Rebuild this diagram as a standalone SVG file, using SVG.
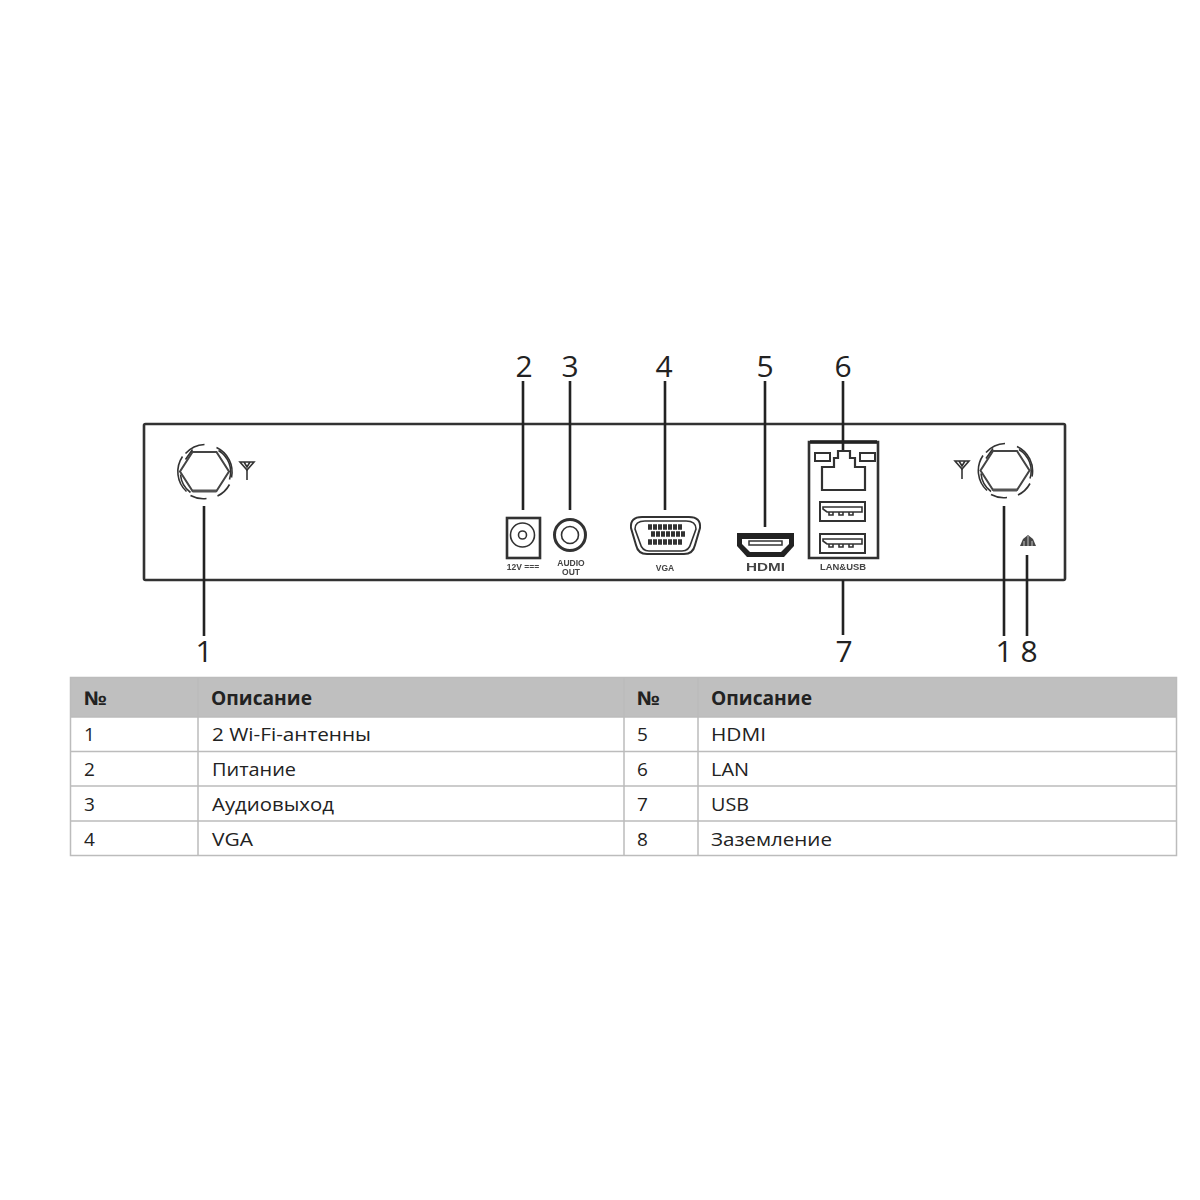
<svg xmlns="http://www.w3.org/2000/svg" width="1200" height="1200" viewBox="0 0 1200 1200">
<defs>
<style>
.ln{fill:none;stroke:#222;stroke-width:2.6}
.dev{fill:none;stroke:#333;stroke-width:2.6}
.thin{fill:none;stroke:#333;stroke-width:1.6}
.hex{fill:none;stroke:#444;stroke-width:2}
.num{font-family:"Open Sans",sans-serif;font-size:30px;fill:#222;text-anchor:middle}
.sm{font-family:"Liberation Sans",sans-serif;font-size:8.5px;font-weight:bold;fill:#444;text-anchor:middle}
.t{font-family:"Open Sans",sans-serif;font-size:19px;fill:#222}
.b{font-weight:bold}
.g{fill:none;stroke:#bcbcbc;stroke-width:1.500}
</style>
<filter id="soft" x="-5%" y="-5%" width="110%" height="110%"><feGaussianBlur stdDeviation="0.45"/></filter>
<g id="nut">
<path class="hex" d="M-12-19.500H12L24.500 0 12 19.500H-12L-24.500 0Z"/>
<path d="M-12 19.500H12" stroke="#555" stroke-width="3"/>
<path class="thin" d="M-19-18A27 27 0 0 1 0-27M12-24A27 27 0 0 1 27 6M25 13A27 27 0 0 1 13 24.500M2 27A27 27 0 0 1-14 24M-18 20A27 27 0 0 1-22-15"/>
<path class="thin" d="M-19-12-12-22M14-21A25 25 0 0 1 25 8M-24 3A25 25 0 0 0-14 21"/>
</g>
<g id="ant">
<path class="thin" d="M-7-7H7L0 1ZM-3-7 0-2 3-7"/>
<path class="thin" d="M0 0V11"/>
</g>
<g id="usb">
<rect x="0" y="0" width="45" height="19" fill="none" stroke="#333" stroke-width="2"/>
<path class="thin" d="M3 5H42V10H7L3 7ZM9 10V13H13V10M19 10V13H23V10M29 10V13H33V10"/>
</g>
</defs>
<rect width="1200" height="1200" fill="#fff"/>
<g filter="url(#soft)">
<g id="device">
<rect class="dev" x="144" y="424" width="921" height="156" rx="1.500"/>
</g>
<g id="antenna-left"><use href="#nut" x="204.500" y="471.500"/><use href="#ant" x="247" y="469"/></g>
<g id="antenna-right"><use href="#nut" x="1005" y="470.500"/><use href="#ant" x="962" y="468"/></g>
<g id="power">
<rect class="dev" x="507" y="518" width="33" height="40"/>
<circle class="thin" cx="522.500" cy="535" r="12" stroke-width="2"/>
<circle class="thin" cx="522.500" cy="535" r="4"/>
<text class="sm" x="523" y="570">12V ===</text>
</g>
<g id="audio">
<circle class="dev" cx="570" cy="535" r="15.500" style="stroke-width:3"/>
<circle class="thin" cx="570" cy="535" r="8.500"/>
<text class="sm" x="571" y="566">AUDIO</text>
<text class="sm" x="571" y="575">OUT</text>
</g>
<g id="vga">
<path class="thin" style="stroke-width:2" d="M642 517H689Q701 517 700 528L695 545Q693 554 684 554H647Q638 554 636 545L631 528Q630 517 642 517Z"/>
<path class="thin" d="M645 521H686Q696 521 696 529L691 543Q689 551 682 551H649Q642 551 640 543L635 529Q635 521 645 521Z"/>
<path d="M648 527H682M651 534H686M648 542H682" fill="none" stroke="#333" stroke-width="5.500" stroke-dasharray="4 1"/>
<text class="sm" x="665" y="571">VGA</text>
</g>
<g id="hdmi">
<path d="M737 533H794V546L784 557H747L737 546Z" fill="#222"/>
<path d="M742 539H789V544L781 552H750L742 544Z" fill="#fff"/>
<rect x="749" y="541" width="33" height="4" fill="none" stroke="#333" stroke-width="1.500"/>
<text class="sm" x="765.500" y="571" style="font-size:10px" textLength="39" lengthAdjust="spacingAndGlyphs">HDMI</text>
</g>
<g id="lan-usb">
<path class="dev" d="M809 442H878V558H809Z"/>
<path d="M810 442H877" stroke="#222" stroke-width="3.500"/>
<rect x="815" y="453" width="15" height="8" fill="none" stroke="#333" stroke-width="2"/>
<rect x="860" y="453" width="15" height="8" fill="none" stroke="#333" stroke-width="2"/>
<path class="thin" style="stroke-width:2.200" d="M822 490V467H834V458H838V451H850V458H855V467H865V490Z"/>
<use href="#usb" x="820" y="502"/>
<use href="#usb" x="820" y="534"/>
<text class="sm" x="843" y="570" textLength="46" lengthAdjust="spacingAndGlyphs">LAN&amp;USB</text>
</g>
<g id="ground">
<path d="M1028 535 1023 539 1020 546H1036L1033 539Z" fill="#444"/>
<path d="M1028 536V547M1024 541V546M1032 541V546" stroke="#fff" stroke-width="0.700"/>
</g>
<g id="connectors">
<path class="ln" d="M204 506V636M523 381V510M570 381V510M665 381V510M765 381V527M843 381V450M843 580V635M1004 506V636M1027 555V636"/>
</g>
</g>
<g id="callouts">
<text class="num" x="204" y="662">1</text>
<text class="num" x="524" y="377">2</text>
<text class="num" x="570" y="377">3</text>
<text class="num" x="664" y="377">4</text>
<text class="num" x="765" y="377">5</text>
<text class="num" x="843" y="377">6</text>
<text class="num" x="844" y="662">7</text>
<text class="num" x="1004" y="662">1</text>
<text class="num" x="1029" y="662">8</text>
</g>
<g id="table">
<rect x="70" y="677" width="1107" height="40" fill="#bfbfbf"/>
<rect class="g" x="70.500" y="677.500" width="1106" height="178"/>
<path class="g" d="M70 717H1177M70 751.500H1177M70 786H1177M70 821H1177M198 677V856M624 677V856M698 677V856"/>
<text class="t b" x="84" y="705" textLength="23" lengthAdjust="spacingAndGlyphs">№</text>
<text class="t b" x="211" y="705" textLength="101" lengthAdjust="spacingAndGlyphs">Описание</text>
<text class="t b" x="637" y="705" textLength="23" lengthAdjust="spacingAndGlyphs">№</text>
<text class="t b" x="711" y="705" textLength="101" lengthAdjust="spacingAndGlyphs">Описание</text>
<text class="t" x="84" y="741">1</text>
<text class="t" x="212" y="741" textLength="159" lengthAdjust="spacingAndGlyphs">2 Wi-Fi-антенны</text>
<text class="t" x="637" y="741">5</text>
<text class="t" x="711" y="741" textLength="55" lengthAdjust="spacingAndGlyphs">HDMI</text>
<text class="t" x="84" y="776">2</text>
<text class="t" x="212" y="776" textLength="84" lengthAdjust="spacingAndGlyphs">Питание</text>
<text class="t" x="637" y="776">6</text>
<text class="t" x="711" y="776" textLength="38" lengthAdjust="spacingAndGlyphs">LAN</text>
<text class="t" x="84" y="811">3</text>
<text class="t" x="212" y="811" textLength="122" lengthAdjust="spacingAndGlyphs">Аудиовыход</text>
<text class="t" x="637" y="811">7</text>
<text class="t" x="711" y="811" textLength="38" lengthAdjust="spacingAndGlyphs">USB</text>
<text class="t" x="84" y="846">4</text>
<text class="t" x="212" y="846" textLength="41" lengthAdjust="spacingAndGlyphs">VGA</text>
<text class="t" x="637" y="846">8</text>
<text class="t" x="711" y="846" textLength="121" lengthAdjust="spacingAndGlyphs">Заземление</text>
</g>
</svg>
